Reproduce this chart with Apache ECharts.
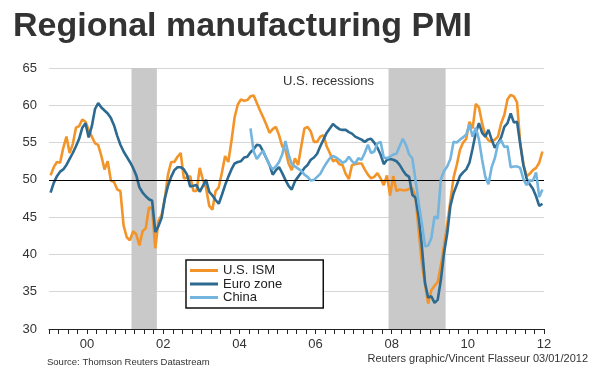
<!DOCTYPE html>
<html><head><meta charset="utf-8">
<script src="https://cdn.jsdelivr.net/npm/echarts@6/dist/echarts.min.js"></script>
<style>html,body{margin:0;padding:0;background:#fff}#c{width:593px;height:370px}</style>
</head><body><div id="c"></div>
<script>
// ---- data (monthly, Jan 1999 - Dec 2011) ----
const startYear = 1999;
const endYear = 2012;
const yearTickLabels = {2000:'00',2002:'02',2004:'04',2006:'06',2008:'08',2010:'10',2012:'12'};
const seriesNames = ['U.S. ISM', 'Euro zone', 'China'];
const usIsm = [
  50.6,51.7,52.4,52.3,54.3,55.8,53.6,54.8,57.0,57.2,58.1,57.8,
  56.7,55.8,54.9,54.7,53.2,51.4,52.5,49.9,49.7,48.7,48.5,43.9,
  42.3,41.9,43.1,42.7,41.2,43.1,43.5,46.3,46.2,40.8,44.5,45.3,
  47.5,50.7,52.4,52.4,53.1,53.6,50.2,50.3,50.5,48.5,48.5,51.6,
  50.0,48.9,46.5,46.0,48.5,49.0,51.0,53.2,52.4,55.2,58.4,60.1,
  60.8,60.6,60.7,61.2,61.3,60.3,59.3,58.4,57.4,56.3,56.8,57.1,
  56.0,54.5,54.0,52.2,51.3,52.9,52.0,54.5,56.9,57.1,56.5,55.1,
  55.1,55.8,56.0,54.5,53.6,52.5,52.7,52.1,52.0,50.8,50.1,52.0,
  52.1,52.2,52.2,51.4,50.7,50.2,50.4,50.9,50.2,49.3,50.6,47.9,
  50.5,48.5,48.7,48.6,48.6,48.8,48.9,47.7,43.2,38.8,36.0,33.4,
  35.2,35.8,36.3,38.5,41.2,44.0,47.2,50.3,52.0,54.0,55.0,55.5,
  57.8,56.9,60.2,59.7,57.6,55.9,55.3,55.1,55.4,55.8,57.6,58.7,
  60.8,61.4,61.2,60.4,55.0,52.1,50.5,50.8,51.3,51.6,52.3,53.8
];
const euroZone = [
  48.3,49.6,50.5,51.1,51.4,52.0,52.8,53.6,54.5,55.5,57.0,57.6,
  55.7,57.2,59.5,60.3,59.7,59.3,58.9,58.3,57.3,55.9,54.7,53.8,
  53.1,52.4,51.6,50.6,49.0,48.3,47.8,47.4,47.2,43.0,43.8,44.9,
  47.5,49.2,50.4,51.3,51.7,51.7,51.4,50.7,49.1,49.2,49.3,48.4,
  49.2,50.0,48.4,47.9,47.3,46.8,48.0,49.3,50.4,51.4,52.2,52.4,
  52.5,53.0,53.1,53.7,54.1,54.7,54.6,53.8,52.9,52.0,50.7,51.3,
  51.7,50.9,50.0,49.2,48.7,49.8,50.4,51.0,51.6,52.0,52.7,53.0,
  53.5,54.5,55.4,56.3,56.9,57.5,57.1,56.8,56.7,56.7,56.4,56.2,
  55.8,55.6,55.4,55.1,55.4,55.5,55.0,54.3,53.4,52.1,52.7,52.8,
  52.7,52.5,52.0,51.3,50.7,50.4,48.0,47.6,45.1,41.1,36.2,34.2,
  34.4,33.5,33.9,36.6,40.2,42.8,46.5,48.2,49.3,50.5,51.0,51.4,
  52.3,54.2,56.3,57.6,56.3,55.8,56.7,55.4,54.3,54.9,55.7,57.1,
  57.6,58.9,57.7,57.8,54.8,52.0,50.2,49.4,48.8,47.8,46.5,46.8
];
const chinaStartMonth = 63; // April 2004 (months after Jan 1999)
const china = [
  56.9,53.8,52.8,53.4,53.9,52.9,52.0,51.4,51.8,
  52.4,53.4,55.2,53.4,52.1,51.8,51.5,51.2,50.7,50.4,49.9,50.0,
  50.4,50.8,51.6,52.3,52.9,53.2,53.0,52.7,52.3,52.5,53.1,52.5,
  52.2,52.9,52.7,53.6,54.7,53.6,53.8,54.9,55.1,53.0,52.9,53.1,
  53.4,53.5,54.5,55.5,54.7,53.4,52.9,50.0,46.9,44.2,41.1,41.2,
  42.2,45.1,44.8,50.1,51.2,51.8,52.8,55.1,55.0,55.4,55.7,56.1,
  57.4,55.8,57.0,55.4,52.7,50.4,49.4,51.7,52.9,54.8,55.3,54.4,
  54.5,51.7,51.8,51.8,51.6,50.1,49.3,49.9,49.9,51.0,47.7,48.7
];
const recessions = [['2001-03','2001-11'], ['2007-12','2009-06']];
const yMin = 30, yMax = 65, yStep = 5;

// ---- helpers ----
const monthX = k => startYear + (k + 0.5) / 12;
const ymToX = s => { const [y, m] = s.split('-').map(Number); return y + (m - 1) / 12; };
const toPairs = (arr, offset) => arr.map((v, i) => [monthX(i + offset), v]);

const colors = ['#F39428', '#2D6A91', '#73B5DE'];
const FONT = 'Liberation Sans, Arial, sans-serif';

const chart = echarts.init(document.getElementById('c'), null, {renderer: 'canvas'});
chart.setOption({
  animation: false,
  backgroundColor: '#fff',
  title: {
    text: 'Regional manufacturing PMI',
    left: 8, top: 5,
    textStyle: {fontFamily: FONT, fontSize: 34, fontWeight: 'bold', color: '#333'}
  },
  grid: {left: 49, right: 49, top: 68, bottom: 41, containLabel: false},
  xAxis: {
    type: 'value', min: startYear, max: endYear, interval: 0.25,
    axisLine: {show: true, lineStyle: {color: '#222', width: 1}},
    axisTick: {show: true, length: 5, lineStyle: {color: '#222', width: 1}},
    splitLine: {show: false},
    axisLabel: {
      margin: 9, fontFamily: FONT, fontSize: 13, color: '#333',
      showMinLabel: true, showMaxLabel: true,
      formatter: v => {
        const r = Math.round(v);
        return Math.abs(v - r) < 1e-6 && yearTickLabels[r] ? yearTickLabels[r] : '';
      }
    }
  },
  yAxis: {
    type: 'value', min: yMin, max: yMax, interval: yStep,
    axisLine: {show: false}, axisTick: {show: false},
    splitLine: {show: true, lineStyle: {color: '#d6d6d6', width: 1}},
    axisLabel: {margin: 12, fontFamily: FONT, fontSize: 13, color: '#333'}
  },
  legend: {
    data: seriesNames,
    orient: 'vertical', left: 186, top: 260,
    padding: [4, 41, 4, 4],
    itemGap: 0.5, itemWidth: 28, itemHeight: 3,
    icon: 'rect',
    borderColor: '#111', borderWidth: 1.5, borderRadius: 0,
    backgroundColor: '#fff',
    textStyle: {fontFamily: FONT, fontSize: 13, color: '#222', lineHeight: 13},
    selectedMode: false
  },
  graphic: [
    {type: 'text', left: 283, top: 75, z: 10,
     style: {text: 'U.S. recessions', fontFamily: FONT, fontSize: 13, fill: '#333'}},
    {type: 'text', left: 47, top: 357, z: 10,
     style: {text: 'Source: Thomson Reuters Datastream', fontFamily: FONT, fontSize: 9.5, fill: '#333'}},
    {type: 'text', right: 5, top: 353, z: 10,
     style: {text: 'Reuters graphic/Vincent Flasseur 03/01/2012', fontFamily: FONT, fontSize: 11, fill: '#333'}}
  ],
  series: [
    {
      name: 'recessions', type: 'line', data: [], z: 1, silent: true,
      markArea: {
        silent: true,
        itemStyle: {color: '#c9c9c9'},
        data: recessions.map(([a, b]) => [{xAxis: ymToX(a)}, {xAxis: ymToX(b)}])
      }
    },
    {
      name: 'fifty', type: 'line', data: [], z: 1.5, silent: true,
      markLine: {
        silent: true, symbol: 'none', label: {show: false},
        lineStyle: {color: '#000', width: 1, type: 'solid'},
        data: [{yAxis: 50}]
      }
    },
    {name: seriesNames[0], type: 'line', data: toPairs(usIsm, 0), showSymbol: false, symbol: 'none',
     lineStyle: {color: colors[0], width: 2.6}, itemStyle: {color: colors[0]}, z: 3},
    {name: seriesNames[1], type: 'line', data: toPairs(euroZone, 0), showSymbol: false, symbol: 'none',
     lineStyle: {color: colors[1], width: 2.6}, itemStyle: {color: colors[1]}, z: 4},
    {name: seriesNames[2], type: 'line', data: toPairs(china, chinaStartMonth), showSymbol: false, symbol: 'none',
     lineStyle: {color: colors[2], width: 2.6}, itemStyle: {color: colors[2]}, z: 5}
  ]
});
</script></body></html>
